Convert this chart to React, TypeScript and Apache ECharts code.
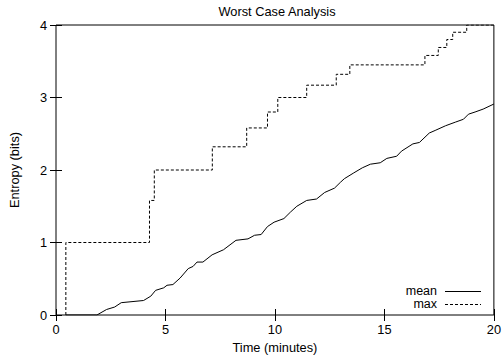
import React, { useEffect, useRef } from "react";
import * as echarts from "echarts";

const title = "Worst Case Analysis";
const xName = "Time (minutes)";
const yName = "Entropy (bits)";

const xTicks = [0, 5, 10, 15, 20];
const yTicks = [0, 1, 2, 3, 4];

const legendNames = ["mean", "max"];

const maxTimes = [0.45, 0.45, 4.27, 4.49, 7.14, 8.71, 9.66, 10.13, 11.45, 12.8, 13.42, 16.85, 17.46, 17.85, 18.12, 18.76, 20];
const maxValues = [0, 1, 1.58, 2.0, 2.32, 2.58, 2.8, 3.0, 3.17, 3.32, 3.45, 3.58, 3.69, 3.8, 3.9, 4.0, 4.0];

const meanTimes = [0.45, 1.87, 2.31, 2.68, 2.98, 4.0, 4.33, 4.55, 4.92, 5.07, 5.34, 5.67, 6.04, 6.26, 6.44, 6.71, 7.13, 7.65, 8.22, 8.77, 9.07, 9.37, 9.66, 9.96, 10.41, 10.71, 11.0, 11.45, 11.9, 12.27, 12.72, 12.99, 13.17, 13.6, 13.99, 14.36, 14.81, 15.11, 15.56, 15.78, 16.3, 16.6, 17.05, 17.35, 17.79, 18.24, 18.61, 18.84, 19.14, 19.51, 20];
const meanValues = [0, 0, 0.076, 0.11, 0.17, 0.2, 0.26, 0.34, 0.375, 0.41, 0.42, 0.51, 0.64, 0.67, 0.73, 0.73, 0.83, 0.9, 1.03, 1.05, 1.1, 1.11, 1.22, 1.28, 1.33, 1.42, 1.5, 1.58, 1.6, 1.69, 1.75, 1.83, 1.88, 1.96, 2.03, 2.08, 2.1, 2.16, 2.19, 2.26, 2.36, 2.38, 2.51, 2.55, 2.61, 2.66, 2.7, 2.77, 2.8, 2.84, 2.91];

const FONT = "'Liberation Sans', Arial, Helvetica, sans-serif";
const FS = 12.8;
const DASH = [3, 2];

export default function App() {
  const ref = useRef<HTMLDivElement>(null);
  useEffect(() => {
    if (!ref.current) return;
    const chart = echarts.init(ref.current, undefined, { renderer: "svg" });
    const xMin = xTicks[0];
    const xMax = xTicks[xTicks.length - 1];
    const yMin = yTicks[0];
    const yMax = yTicks[yTicks.length - 1];
    const xInt = xTicks[1] - xTicks[0];
    const yInt = yTicks[1] - yTicks[0];
    const tickStyle = { inside: true, length: 6, lineStyle: { color: "#000", width: 1 } };

    const legendRows = [290.5, 304];
    const legendGraphic: any[] = [];
    legendNames.forEach((n, i) => {
      const y = legendRows[i];
      legendGraphic.push({
        type: "text",
        x: 437,
        y,
        style: { text: n, fill: "#000", font: `12.5px ${FONT}`, lineHeight: 12.5, align: "right", verticalAlign: "middle" },
      });
      legendGraphic.push({
        type: "line",
        shape: { x1: 445, y1: Math.round(y) + 0.5, x2: 481, y2: Math.round(y) + 0.5 },
        style: { stroke: "#000", lineWidth: 1, lineDash: i === 0 ? null : DASH },
      });
    });

    chart.setOption({
      animation: false,
      backgroundColor: "#fff",
      title: {
        text: title,
        left: 272,
        textAlign: "center",
        top: 0,
        textStyle: { fontSize: FS, fontWeight: "normal", fontFamily: FONT, color: "#000" },
      },
      grid: { left: 49, top: 25, width: 447, height: 290, show: true, borderColor: "#000", borderWidth: 1, backgroundColor: "transparent" },
      graphic: legendGraphic,
      xAxis: [
        {
          type: "value", min: xMin, max: xMax, interval: xInt,
          name: xName, nameLocation: "middle", nameGap: 26,
          nameTextStyle: { fontSize: FS, fontFamily: FONT, color: "#000" },
          axisLine: { show: false },
          axisTick: tickStyle,
          splitLine: { show: false },
          axisLabel: { fontSize: FS, fontFamily: FONT, color: "#000", margin: 8 },
        },
        {
          type: "value", min: xMin, max: xMax, interval: xInt, position: "top",
          axisLine: { show: false }, axisTick: tickStyle, splitLine: { show: false },
          axisLabel: { show: false },
        },
      ],
      yAxis: [
        {
          type: "value", min: yMin, max: yMax, interval: yInt,
          name: yName, nameLocation: "middle", nameGap: 35,
          nameTextStyle: { fontSize: FS, fontFamily: FONT, color: "#000" },
          axisLine: { show: false },
          axisTick: tickStyle,
          splitLine: { show: false },
          axisLabel: { fontSize: FS, fontFamily: FONT, color: "#000", margin: 9 },
        },
        {
          type: "value", min: yMin, max: yMax, interval: yInt, position: "right",
          axisLine: { show: false }, axisTick: tickStyle, splitLine: { show: false },
          axisLabel: { show: false },
        },
      ],
      series: [
        {
          name: legendNames[0],
          type: "line",
          data: meanTimes.map((t, i) => [t, meanValues[i]]),
          showSymbol: false,
          symbol: "none",
          lineStyle: { color: "#000", width: 1, type: "solid" },
          itemStyle: { color: "#000" },
        },
        {
          name: legendNames[1],
          type: "line",
          step: "end",
          data: maxTimes.map((t, i) => [t, maxValues[i]]),
          showSymbol: false,
          symbol: "none",
          lineStyle: { color: "#000", width: 1, type: DASH },
          itemStyle: { color: "#000" },
        },
      ],
    });
    return () => chart.dispose();
  }, []);
  return <div ref={ref} style={{ width: 504, height: 362, position: "absolute", left: 0, top: 0 }} />;
}
